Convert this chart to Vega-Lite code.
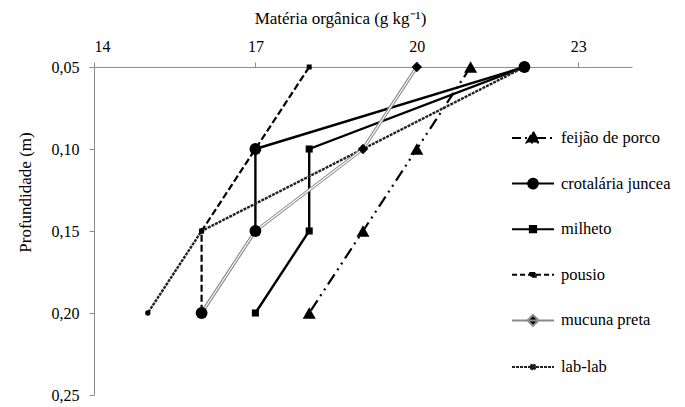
{
  "$schema": "https://vega.github.io/schema/vega-lite/v6.json",
  "width": 538,
  "height": 328,
  "autosize": {"type": "none"},
  "padding": {"left": 94, "top": 67, "right": 53, "bottom": 12},
  "background": "white",
  "config": {
    "view": {"stroke": null},
    "font": "Liberation Serif",
    "axis": {
      "grid": false,
      "domainColor": "#8c8c8c",
      "tickColor": "#8c8c8c",
      "labelColor": "black",
      "titleColor": "black",
      "labelFont": "Liberation Serif",
      "titleFont": "Liberation Serif",
      "labelFontSize": 16,
      "titleFontSize": 17,
      "titleFontWeight": "normal"
    },
    "legend": {"labelFont": "Liberation Serif"}
  },
  "data": {
    "values": [
      {"serie": "feijão de porco", "om": 21, "depth": 0.05},
      {"serie": "feijão de porco", "om": 20, "depth": 0.10},
      {"serie": "feijão de porco", "om": 19, "depth": 0.15},
      {"serie": "feijão de porco", "om": 18, "depth": 0.20},
      {"serie": "crotalária juncea", "om": 22, "depth": 0.05},
      {"serie": "crotalária juncea", "om": 17, "depth": 0.10},
      {"serie": "crotalária juncea", "om": 17, "depth": 0.15},
      {"serie": "crotalária juncea", "om": 16, "depth": 0.20},
      {"serie": "milheto", "om": 22, "depth": 0.05},
      {"serie": "milheto", "om": 18, "depth": 0.10},
      {"serie": "milheto", "om": 18, "depth": 0.15},
      {"serie": "milheto", "om": 17, "depth": 0.20},
      {"serie": "pousio", "om": 18, "depth": 0.05},
      {"serie": "pousio", "om": 17, "depth": 0.10},
      {"serie": "pousio", "om": 16, "depth": 0.15},
      {"serie": "pousio", "om": 16, "depth": 0.20},
      {"serie": "mucuna preta", "om": 20, "depth": 0.05},
      {"serie": "mucuna preta", "om": 19, "depth": 0.10},
      {"serie": "mucuna preta", "om": 17, "depth": 0.15},
      {"serie": "mucuna preta", "om": 16, "depth": 0.20},
      {"serie": "lab-lab", "om": 22, "depth": 0.05},
      {"serie": "lab-lab", "om": 19, "depth": 0.10},
      {"serie": "lab-lab", "om": 16, "depth": 0.15},
      {"serie": "lab-lab", "om": 15, "depth": 0.20}
    ]
  },
  "encoding": {
    "x": {
      "field": "om",
      "type": "quantitative",
      "scale": {"domain": [14, 24], "nice": false, "zero": false},
      "axis": {
        "orient": "top",
        "values": [14, 17, 20, 23],
        "title": "Matéria orgânica (g kg⁻¹)",
        "titleX": 246,
        "titleY": -49,
        "titleBaseline": "middle",
        "tickSize": 5,
        "labelPadding": 8,
        "labelFont": "Liberation Serif"
      }
    },
    "y": {
      "field": "depth",
      "type": "quantitative",
      "scale": {"domain": [0.05, 0.25], "reverse": true, "nice": false, "zero": false},
      "axis": {
        "values": [0.05, 0.1, 0.15, 0.2, 0.25],
        "labelExpr": "replace(format(datum.value, '.2f'), '.', ',')",
        "title": "Profundidade (m)",
        "titleX": -69,
        "titleY": 125,
        "titleBaseline": "middle",
        "titleAngle": -90,
        "tickSize": 5,
        "labelPadding": 10,
        "labelFont": "Liberation Serif"
      }
    }
  },
  "layer": [
    {
      "transform": [{"filter": "datum.serie === 'crotalária juncea' || datum.serie === 'milheto'"}],
      "mark": {"type": "line", "color": "black", "strokeWidth": 2.4},
      "encoding": {"order": {"field": "depth"}, "detail": {"field": "serie"}}
    },
    {
      "transform": [{"filter": "datum.serie === 'feijão de porco'"}],
      "mark": {"type": "line", "color": "black", "strokeWidth": 2.2, "strokeDash": [12, 5, 2, 5, 2, 5]},
      "encoding": {"order": {"field": "depth"}}
    },
    {
      "transform": [{"filter": "datum.serie === 'pousio'"}],
      "mark": {"type": "line", "color": "black", "strokeWidth": 2.2, "strokeDash": [7, 3]},
      "encoding": {"order": {"field": "depth"}}
    },
    {
      "transform": [{"filter": "datum.serie === 'lab-lab'"}],
      "mark": {"type": "line", "color": "#222222", "strokeWidth": 2.4, "strokeDash": [3, 1]},
      "encoding": {"order": {"field": "depth"}}
    },
    {
      "transform": [{"filter": "datum.serie === 'mucuna preta'"}],
      "mark": {"type": "line", "color": "#8a8a8a", "strokeWidth": 3.2},
      "encoding": {"order": {"field": "depth"}}
    },
    {
      "transform": [{"filter": "datum.serie === 'mucuna preta'"}],
      "mark": {"type": "line", "color": "white", "strokeWidth": 1.1},
      "encoding": {"order": {"field": "depth"}}
    },
    {
      "transform": [{"filter": "datum.serie === 'feijão de porco'"}],
      "mark": {"type": "point", "shape": "triangle-up", "filled": true, "color": "black", "opacity": 1, "size": 170}
    },
    {
      "transform": [{"filter": "datum.serie === 'crotalária juncea'"}],
      "mark": {"type": "point", "shape": "circle", "filled": true, "color": "black", "opacity": 1, "size": 140}
    },
    {
      "transform": [{"filter": "datum.serie === 'milheto'"}],
      "mark": {"type": "point", "shape": "square", "filled": true, "color": "black", "opacity": 1, "size": 50}
    },
    {
      "transform": [{"filter": "datum.serie === 'pousio'"}],
      "mark": {"type": "point", "shape": "square", "filled": true, "color": "black", "opacity": 1, "size": 25}
    },
    {
      "transform": [{"filter": "datum.serie === 'mucuna preta'"}],
      "mark": {"type": "point", "shape": "diamond", "filled": true, "color": "black", "opacity": 1, "size": 110}
    },
    {
      "transform": [{"filter": "datum.serie === 'lab-lab'"}],
      "mark": {"type": "point", "shape": "circle", "filled": true, "color": "black", "opacity": 1, "size": 28}
    },
    {
      "mark": {"type": "point", "filled": false, "fill": "black", "opacity": 0, "strokeWidth": 2, "size": 10},
      "encoding": {
        "shape": {
          "field": "serie",
          "type": "nominal",
          "scale": {
            "domain": ["feijão de porco", "crotalária juncea", "milheto", "pousio", "mucuna preta", "lab-lab"],
            "range": [
              "M-1,0H1M0,-0.3L0.3,0.22L-0.3,0.22Z",
              "M-1,0H1M0.23,0A0.23,0.23 0 1,1 -0.23,0A0.23,0.23 0 1,1 0.23,0Z",
              "M-1,0H1M-0.15,-0.15H0.15V0.15H-0.15Z",
              "M-1,0H1M-0.13,-0.09H0.13V0.09H-0.13Z",
              "M-1,0H1M0,-0.26L0.26,0L0,0.26L-0.26,0Z",
              "M-1,0H1M0.12,0A0.12,0.12 0 1,1 -0.12,0A0.12,0.12 0 1,1 0.12,0Z"
            ]
          },
          "legend": {
            "title": null,
            "orient": "none",
            "legendX": 417,
            "legendY": 49,
            "padding": 0,
            "symbolSize": 1764,
            "symbolStrokeWidth": 2,
            "symbolOpacity": 1,
            "symbolFillColor": "black",
            "rowPadding": 14.6,
            "labelOffset": 6,
            "labelFontSize": 16.5,
            "labelFont": "Liberation Serif",
            "labelColor": "black"
          }
        },
        "strokeDash": {
          "field": "serie",
          "type": "nominal",
          "scale": {
            "domain": ["feijão de porco", "crotalária juncea", "milheto", "pousio", "mucuna preta", "lab-lab"],
            "range": [[9, 4, 2, 4, 2, 4], [1, 0], [1, 0], [5, 3], [1, 0], [3, 1]]
          },
          "legend": {
            "title": null,
            "orient": "none",
            "legendX": 417,
            "legendY": 49,
            "padding": 0,
            "symbolSize": 1764,
            "symbolStrokeWidth": 2,
            "symbolOpacity": 1,
            "symbolFillColor": "black",
            "rowPadding": 14.6,
            "labelOffset": 6,
            "labelFontSize": 16.5,
            "labelFont": "Liberation Serif",
            "labelColor": "black"
          }
        },
        "color": {
          "field": "serie",
          "type": "nominal",
          "scale": {
            "domain": ["feijão de porco", "crotalária juncea", "milheto", "pousio", "mucuna preta", "lab-lab"],
            "range": ["black", "black", "black", "black", "#8a8a8a", "#222222"]
          },
          "legend": {
            "title": null,
            "orient": "none",
            "legendX": 417,
            "legendY": 49,
            "padding": 0,
            "symbolSize": 1764,
            "symbolStrokeWidth": 2,
            "symbolOpacity": 1,
            "symbolFillColor": "black",
            "rowPadding": 14.6,
            "labelOffset": 6,
            "labelFontSize": 16.5,
            "labelFont": "Liberation Serif",
            "labelColor": "black"
          }
        }
      }
    }
  ]
}
